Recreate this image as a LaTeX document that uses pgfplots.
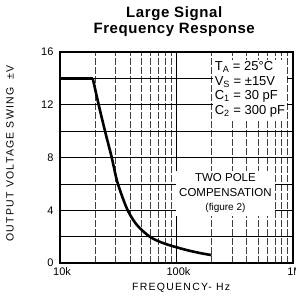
\documentclass[border=0pt]{standalone}
\usepackage{pgfplots}
\pgfplotsset{compat=1.18}
\usepackage{fontspec}
\setmainfont{Liberation Sans}
\newfontfamily\spaced[LetterSpace=12]{Liberation Sans}
\newfontfamily\titlefont[LetterSpace=4]{Liberation Sans}
\begin{document}
\begin{tikzpicture}[x=1pt,y=1pt]
\path[use as bounding box] (-60,-40) rectangle (236,263);
\begin{axis}[
  at={(0,0)}, anchor=south west,
  scale only axis, width=233pt, height=211pt,
  xmode=log, xmin=1e4, xmax=1e6, ymin=0, ymax=16,
  log basis x=10,
  xtick={1e4,1e5,1e6}, xticklabels={10k,100k,1M},
  minor xtick={2e4,3e4,4e4,5e4,6e4,7e4,8e4,9e4,2e5,3e5,4e5,5e5,6e5,7e5,8e5,9e5},
  ytick={0,2,...,16}, yticklabels={0,,4,,8,,12,,16},
  grid=both,
  major grid style={black, line width=0.7pt},
  minor grid style={black!75, line width=0.45pt, dash pattern=on 7pt off 2pt},
  tick style={draw=none},
  axis line style={black, line width=1.1pt},
  tick label style={font=\fontsize{11}{12}\selectfont},
  xticklabel style={yshift=-1pt, xshift=2pt},
  yticklabel style={xshift=-3pt},
  /pgf/number format/assume math mode=true,
  xlabel={\spaced FREQUENCY- Hz}, ylabel={\spaced OUTPUT VOLTAGE SWING \ ±V},
  label style={font=\fontsize{10.5}{12}\selectfont},
  xlabel style={at={(axis description cs:0.52,-0.13)}, anchor=base},
  ylabel style={at={(axis description cs:-0.215,0.52)}, anchor=center},
  title={Large Signal\\Frequency Response},
  title style={font=\titlefont\bfseries\fontsize{15}{16}\selectfont, align=center, at={(axis description cs:0.49,1.03)}, anchor=south},
  clip=false,
]
\addplot[black, line width=2.6pt, line join=round] coordinates {
(1e4,14) (1.91e4,14)};
\addplot[black, line width=2.6pt, line join=round, smooth, tension=0.5] coordinates {
(1.91e4,14) (2.2e4,11.6) (2.5e4,9.6) (2.78e4,8) (3.07e4,6.3) (3.4e4,5.1) (3.81e4,4) (4.3e4,3.2) (4.83e4,2.65) (5.88e4,2.0) (7e4,1.65) (8.7e4,1.35) (1.2e5,1.0) (1.6e5,0.75) (2e5,0.6)
};
\node[fill=white, align=left, anchor=north west, inner sep=2pt, font=\fontsize{13}{14.5}\selectfont]
  at (rel axis cs:0.655,0.965) {T\textsubscript{A} = 25°C\\V\textsubscript{S} = ±15V\\C\textsubscript{1} = 30 pF\\C\textsubscript{2} = 300 pF};
\node[fill=white, align=center, anchor=center, inner sep=3pt, font=\fontsize{11.5}{14.5}\selectfont]
  at (rel axis cs:0.71,0.33) {TWO POLE\\COMPENSATION\\{\fontsize{10}{11}\selectfont(figure 2)}};
\end{axis}
\end{tikzpicture}
\end{document}
